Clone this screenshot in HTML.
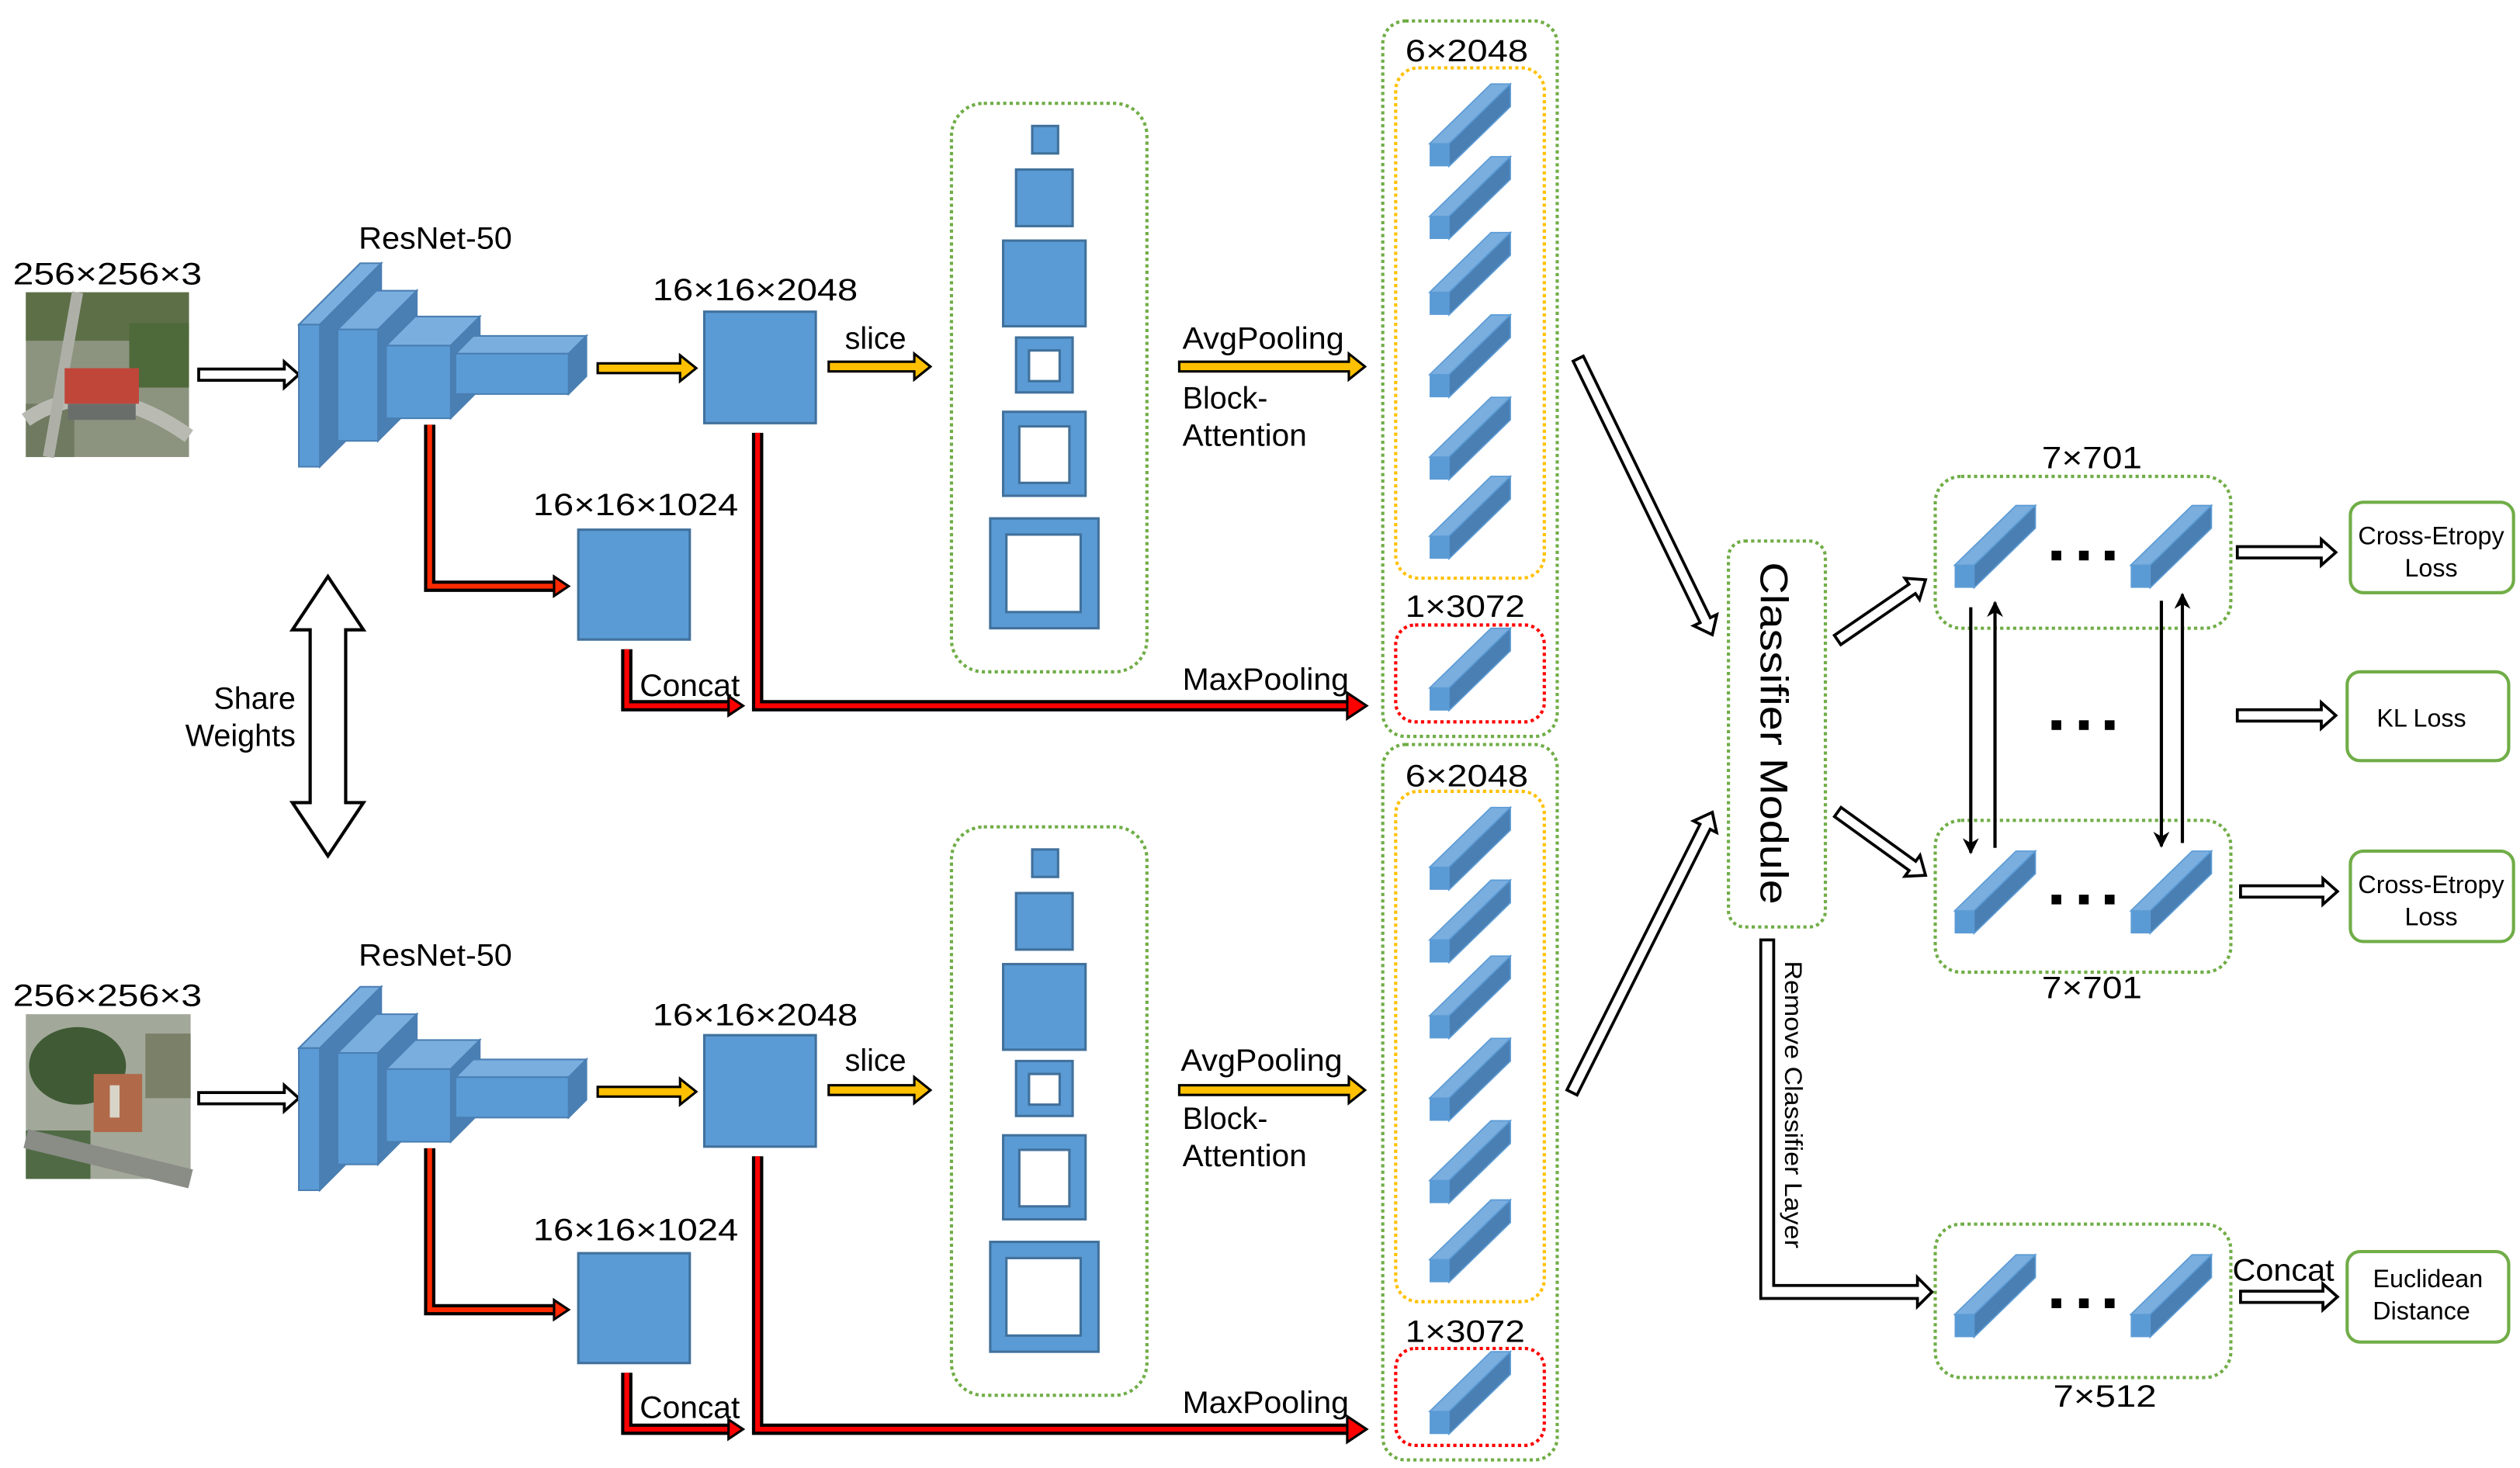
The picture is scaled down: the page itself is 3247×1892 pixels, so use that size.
<!DOCTYPE html>
<html><head><meta charset="utf-8"><style>
html,body{margin:0;padding:0;background:#fff;}
svg{display:block;}
text{font-family:"Liberation Sans","Noto Sans CJK SC",sans-serif;fill:#000;}
</style></head><body>
<svg xmlns="http://www.w3.org/2000/svg" xmlns:xlink="http://www.w3.org/1999/xlink" width="3247" height="1892" viewBox="0 0 1560 909">
<defs>
<marker id="ah" markerWidth="10" markerHeight="10" refX="9" refY="5" orient="auto" markerUnits="userSpaceOnUse"><path d="M0,0 L10,5 L0,10 L3,5 z" fill="#000"/></marker>
<g id="bar">
  <polygon points="0,37 38,0 50,0 12,37" fill="#7aaedf" stroke="#5b9bd5" stroke-width="0.8"/>
  <polygon points="12,37 50,0 50,14 12,51" fill="#4a7fb3" stroke="#5b9bd5" stroke-width="0.8"/>
  <rect x="0" y="37" width="12" height="14" fill="#5b9bd5"/>
</g>
<g id="branch">
  <!-- input arrow -->
  <polygon points="123,228.5 176,228.5 176,224 185,232 176,240 176,235.5 123,235.5" fill="#fff" stroke="#000" stroke-width="1.8"/>
  <!-- resnet slabs -->
  <g stroke="#4a7fb3" stroke-width="1">
    <polygon points="185,201 223,163 236,163 198,201" fill="#7aaedf"/>
    <polygon points="198,201 236,163 236,251 198,289" fill="#4a7fb3"/>
    <rect x="185" y="201" width="13" height="88" fill="#5b9bd5"/>
    <polygon points="209,204 233,180 258,180 234,204" fill="#7aaedf"/>
    <polygon points="234,204 258,180 258,249 234,273" fill="#4a7fb3"/>
    <rect x="209" y="204" width="25" height="69" fill="#5b9bd5"/>
    <polygon points="239,214 257,196 297,196 279,214" fill="#7aaedf"/>
    <polygon points="279,214 297,196 297,241 279,259" fill="#4a7fb3"/>
    <rect x="239" y="214" width="40" height="45" fill="#5b9bd5"/>
    <polygon points="282,219 293,208 363,208 352,219" fill="#7aaedf"/>
    <polygon points="352,219 363,208 363,233 352,244" fill="#4a7fb3"/>
    <rect x="282" y="219" width="70" height="25" fill="#5b9bd5"/>
  </g>
  <!-- yellow arrows -->
  <polygon points="370,225 421,225 421,220 431,228 421,236 421,231 370,231" fill="#ffc000" stroke="#000" stroke-width="1.5"/>
  <polygon points="513,224 566,224 566,219 576,227 566,235 566,230 513,230" fill="#ffc000" stroke="#000" stroke-width="1.5"/>
  <polygon points="730,224 835,224 835,219 845,227 835,235 835,230 730,230" fill="#ffc000" stroke="#000" stroke-width="1.5"/>
  <!-- boxes -->
  <rect x="436" y="193" width="69" height="69" fill="#5b9bd5" stroke="#41719c" stroke-width="1.5"/>
  <rect x="358" y="328" width="69" height="68" fill="#5b9bd5" stroke="#41719c" stroke-width="1.5"/>
  <!-- red paths -->
  <g fill="none" stroke-linejoin="miter">
    <path d="M266,263 V363 H344" stroke="#000" stroke-width="7"/>
    <path d="M266,263 V363 H346" stroke="#ff2a00" stroke-width="3"/>
    <path d="M388,402 V437 H452" stroke="#000" stroke-width="7"/>
    <path d="M388,402 V437 H454" stroke="#ff0000" stroke-width="3"/>
    <path d="M469,268 V437 H836" stroke="#000" stroke-width="7"/>
    <path d="M469,268 V437 H838" stroke="#ff0000" stroke-width="3"/>
  </g>
  <polygon points="343,357 352,363 343,369" fill="#ff2a00" stroke="#000" stroke-width="1.5"/>
  <polygon points="451,431 460,437 451,443" fill="#ff0000" stroke="#000" stroke-width="1.5"/>
  <polygon points="834,429 846,437 834,445" fill="#ff0000" stroke="#000" stroke-width="1.5"/>
  <!-- slice container -->
  <rect x="589" y="64" width="121" height="352" rx="20" fill="none" stroke="#70ad47" stroke-width="2" stroke-dasharray="2,2"/>
  <g fill="#5b9bd5" stroke="#41719c" stroke-width="1.5">
    <rect x="639" y="78" width="16" height="17"/>
    <rect x="629" y="105" width="35" height="35"/>
    <rect x="621" y="149" width="51" height="53"/>
    <rect x="629" y="209" width="35" height="34"/>
    <rect x="621" y="255" width="51" height="52"/>
    <rect x="613" y="321" width="67" height="68"/>
  </g>
  <g fill="#fff" stroke="#41719c" stroke-width="1.5">
    <rect x="637" y="217" width="19" height="19"/>
    <rect x="631" y="264" width="31" height="35"/>
    <rect x="623" y="331" width="46" height="48"/>
  </g>
  <!-- feature container -->
  <rect x="856" y="13" width="108" height="443" rx="14" fill="none" stroke="#70ad47" stroke-width="2" stroke-dasharray="2,2"/>
  <rect x="864" y="42" width="92" height="316" rx="14" fill="none" stroke="#ffc000" stroke-width="2" stroke-dasharray="2,2"/>
  <rect x="864" y="387" width="92" height="60" rx="12" fill="none" stroke="#ff0000" stroke-width="2" stroke-dasharray="2,2"/>
  <use xlink:href="#bar" x="885" y="52"/>
  <use xlink:href="#bar" x="885" y="97"/>
  <use xlink:href="#bar" x="885" y="144"/>
  <use xlink:href="#bar" x="885" y="195"/>
  <use xlink:href="#bar" x="885" y="246"/>
  <use xlink:href="#bar" x="885" y="295"/>
  <use xlink:href="#bar" x="885" y="389"/>
</g>
</defs>

<!-- top branch -->
<use xlink:href="#branch"/>
<!-- bottom branch -->
<use xlink:href="#branch" y="448"/>

<!-- aerial image top -->
<g>
  <rect x="16" y="181" width="101" height="102" fill="#8c9480"/>
  <rect x="16" y="181" width="101" height="30" fill="#5d6f47"/>
  <rect x="80" y="200" width="37" height="40" fill="#4f6a3a"/>
  <rect x="16" y="250" width="30" height="33" fill="#6f7a60"/>
  <path d="M16,260 Q60,230 117,270" stroke="#b9bbb3" stroke-width="9" fill="none"/>
  <path d="M48,181 L30,283" stroke="#aeb0a8" stroke-width="7" fill="none"/>
  <rect x="40" y="228" width="46" height="22" fill="#c0463a"/>
  <rect x="42" y="250" width="42" height="10" fill="#6a6e6a"/>
</g>
<!-- aerial image bottom -->
<g>
  <rect x="16" y="628" width="102" height="102" fill="#a2a89a"/>
  <ellipse cx="48" cy="660" rx="30" ry="24" fill="#3f5a34"/>
  <rect x="16" y="700" width="40" height="30" fill="#4f6a44"/>
  <rect x="90" y="640" width="28" height="40" fill="#7b8068"/>
  <path d="M16,705 L118,730" stroke="#8a8c86" stroke-width="12" fill="none"/>
  <rect x="58" y="665" width="30" height="36" fill="#b06a4a"/>
  <rect x="68" y="672" width="6" height="20" fill="#d8d4c8"/>
</g>

<!-- labels top -->
<g font-size="19">
  <text x="8" y="176" textLength="117" lengthAdjust="spacingAndGlyphs">256×256×3</text>
  <text x="222" y="154" textLength="95" lengthAdjust="spacingAndGlyphs">ResNet-50</text>
  <text x="404" y="186" textLength="127" lengthAdjust="spacingAndGlyphs">16×16×2048</text>
  <text x="523" y="216">slice</text>
  <text x="330" y="319" textLength="127" lengthAdjust="spacingAndGlyphs">16×16×1024</text>
  <text x="396" y="431" textLength="62" lengthAdjust="spacingAndGlyphs">Concat</text>
  <text x="732" y="216" textLength="100" lengthAdjust="spacingAndGlyphs">AvgPooling</text>
  <text x="732" y="253">Block-</text>
  <text x="732" y="276" textLength="77" lengthAdjust="spacingAndGlyphs">Attention</text>
  <text x="732" y="427" textLength="103" lengthAdjust="spacingAndGlyphs">MaxPooling</text>
  <text x="870" y="38" textLength="76" lengthAdjust="spacingAndGlyphs">6×2048</text>
  <text x="870" y="382" textLength="74" lengthAdjust="spacingAndGlyphs">1×3072</text>
</g>
<!-- labels bottom -->
<g font-size="19">
  <text x="8" y="623" textLength="117" lengthAdjust="spacingAndGlyphs">256×256×3</text>
  <text x="222" y="598" textLength="95" lengthAdjust="spacingAndGlyphs">ResNet-50</text>
  <text x="404" y="635" textLength="127" lengthAdjust="spacingAndGlyphs">16×16×2048</text>
  <text x="523" y="663">slice</text>
  <text x="330" y="768" textLength="127" lengthAdjust="spacingAndGlyphs">16×16×1024</text>
  <text x="396" y="878" textLength="62" lengthAdjust="spacingAndGlyphs">Concat</text>
  <text x="731" y="663" textLength="100" lengthAdjust="spacingAndGlyphs">AvgPooling</text>
  <text x="732" y="699">Block-</text>
  <text x="732" y="722" textLength="77" lengthAdjust="spacingAndGlyphs">Attention</text>
  <text x="732" y="875" textLength="103" lengthAdjust="spacingAndGlyphs">MaxPooling</text>
  <text x="870" y="487" textLength="76" lengthAdjust="spacingAndGlyphs">6×2048</text>
  <text x="870" y="831" textLength="74" lengthAdjust="spacingAndGlyphs">1×3072</text>
</g>

<!-- share weights -->
<polygon points="203,357 225,390 214,390 214,497 225,497 203,530 181,497 192,497 192,390 181,390" fill="#fff" stroke="#000" stroke-width="2"/>
<text x="183" y="439" font-size="19" text-anchor="end">Share</text>
<text x="183" y="462" font-size="19" text-anchor="end">Weights</text>

<!-- big diagonal hollow arrows -->
<polygon transform="translate(1060,393) rotate(64.1)" points="-190,-3.5 -10,-3.5 -10,-8 0,0 -10,8 -10,3.5 -190,3.5" fill="#fff" stroke="#000" stroke-width="1.8"/>
<polygon transform="translate(1060,503) rotate(-63.4)" points="-194,-3.5 -10,-3.5 -10,-8 0,0 -10,8 -10,3.5 -194,3.5" fill="#fff" stroke="#000" stroke-width="1.8"/>

<!-- classifier module -->
<rect x="1070" y="335" width="60" height="239" rx="10" fill="none" stroke="#70ad47" stroke-width="2" stroke-dasharray="2,2"/>
<text transform="translate(1090,454) rotate(90)" font-size="24" text-anchor="middle" textLength="212" lengthAdjust="spacingAndGlyphs">Classifier  Module</text>

<!-- classifier to boxes -->
<polygon transform="translate(1192,359) rotate(-34.4)" points="-66,-3.5 -10,-3.5 -10,-8 0,0 -10,8 -10,3.5 -66,3.5" fill="#fff" stroke="#000" stroke-width="1.8"/>
<polygon transform="translate(1192,542) rotate(35.8)" points="-67,-3.5 -10,-3.5 -10,-8 0,0 -10,8 -10,3.5 -67,3.5" fill="#fff" stroke="#000" stroke-width="1.8"/>

<!-- remove classifier path -->
<polygon points="1090,582 1098,582 1098,796 1187,796 1187,791 1196,800 1187,809 1187,804 1090,804" fill="#fff" stroke="#000" stroke-width="1.8"/>
<text transform="translate(1105,595) rotate(90)" font-size="15" textLength="178" lengthAdjust="spacingAndGlyphs">Remove Classifier Layer</text>

<!-- right boxes -->
<g fill="none" stroke="#70ad47" stroke-width="2" stroke-dasharray="2,2">
  <rect x="1198" y="295" width="183" height="94" rx="16"/>
  <rect x="1198" y="508" width="183" height="94" rx="16"/>
  <rect x="1198" y="758" width="183" height="95" rx="16"/>
</g>
<use xlink:href="#bar" x="1210" y="313"/>
<use xlink:href="#bar" x="1319" y="313"/>
<use xlink:href="#bar" x="1210" y="527"/>
<use xlink:href="#bar" x="1319" y="527"/>
<use xlink:href="#bar" x="1210" y="777"/>
<use xlink:href="#bar" x="1319" y="777"/>
<g fill="#000">
  <rect x="1270" y="341" width="6" height="6"/><rect x="1287" y="341" width="6" height="6"/><rect x="1303" y="341" width="6" height="6"/>
  <rect x="1270" y="446" width="6" height="6"/><rect x="1287" y="446" width="6" height="6"/><rect x="1303" y="446" width="6" height="6"/>
  <rect x="1270" y="554" width="6" height="6"/><rect x="1287" y="554" width="6" height="6"/><rect x="1303" y="554" width="6" height="6"/>
  <rect x="1270" y="804" width="6" height="6"/><rect x="1287" y="804" width="6" height="6"/><rect x="1303" y="804" width="6" height="6"/>
</g>
<g stroke="#000" stroke-width="2" marker-end="url(#ah)">
  <line x1="1220" y1="376" x2="1220" y2="528"/>
  <line x1="1235" y1="525" x2="1235" y2="373"/>
  <line x1="1338" y1="372" x2="1338" y2="524"/>
  <line x1="1351" y1="522" x2="1351" y2="368"/>
</g>
<g font-size="19">
  <text x="1264" y="290" textLength="62" lengthAdjust="spacingAndGlyphs">7×701</text>
  <text x="1264" y="618" textLength="62" lengthAdjust="spacingAndGlyphs">7×701</text>
  <text x="1271" y="871" textLength="64" lengthAdjust="spacingAndGlyphs">7×512</text>
  <text x="1382" y="793" textLength="63" lengthAdjust="spacingAndGlyphs">Concat</text>
</g>

<!-- output arrows -->
<g fill="#fff" stroke="#000" stroke-width="1.8">
  <polygon points="1385,338.5 1437,338.5 1437,334 1446,342 1437,350 1437,345.5 1385,345.5"/>
  <polygon points="1385,439.5 1437,439.5 1437,435 1446,443 1437,451 1437,446.5 1385,446.5"/>
  <polygon points="1387,548.5 1438,548.5 1438,544 1447,552 1438,560 1438,555.5 1387,555.5"/>
  <polygon points="1387,799.5 1438,799.5 1438,795 1447,803 1438,811 1438,806.5 1387,806.5"/>
</g>

<!-- loss boxes -->
<g fill="none" stroke="#70ad47" stroke-width="2">
  <rect x="1455" y="311" width="101" height="56" rx="8"/>
  <rect x="1453" y="416" width="100" height="55" rx="8"/>
  <rect x="1455" y="527" width="101" height="56" rx="8"/>
  <rect x="1453" y="775" width="100" height="56" rx="8"/>
</g>
<g font-size="15.5" text-anchor="middle">
  <text x="1505" y="337">Cross-Etropy</text>
  <text x="1505" y="357">Loss</text>
  <text x="1499" y="450">KL Loss</text>
  <text x="1505" y="553">Cross-Etropy</text>
  <text x="1505" y="573">Loss</text>
  <text x="1503" y="797">Euclidean</text>
  <text x="1499" y="817">Distance</text>
</g>
</svg>
</body></html>
